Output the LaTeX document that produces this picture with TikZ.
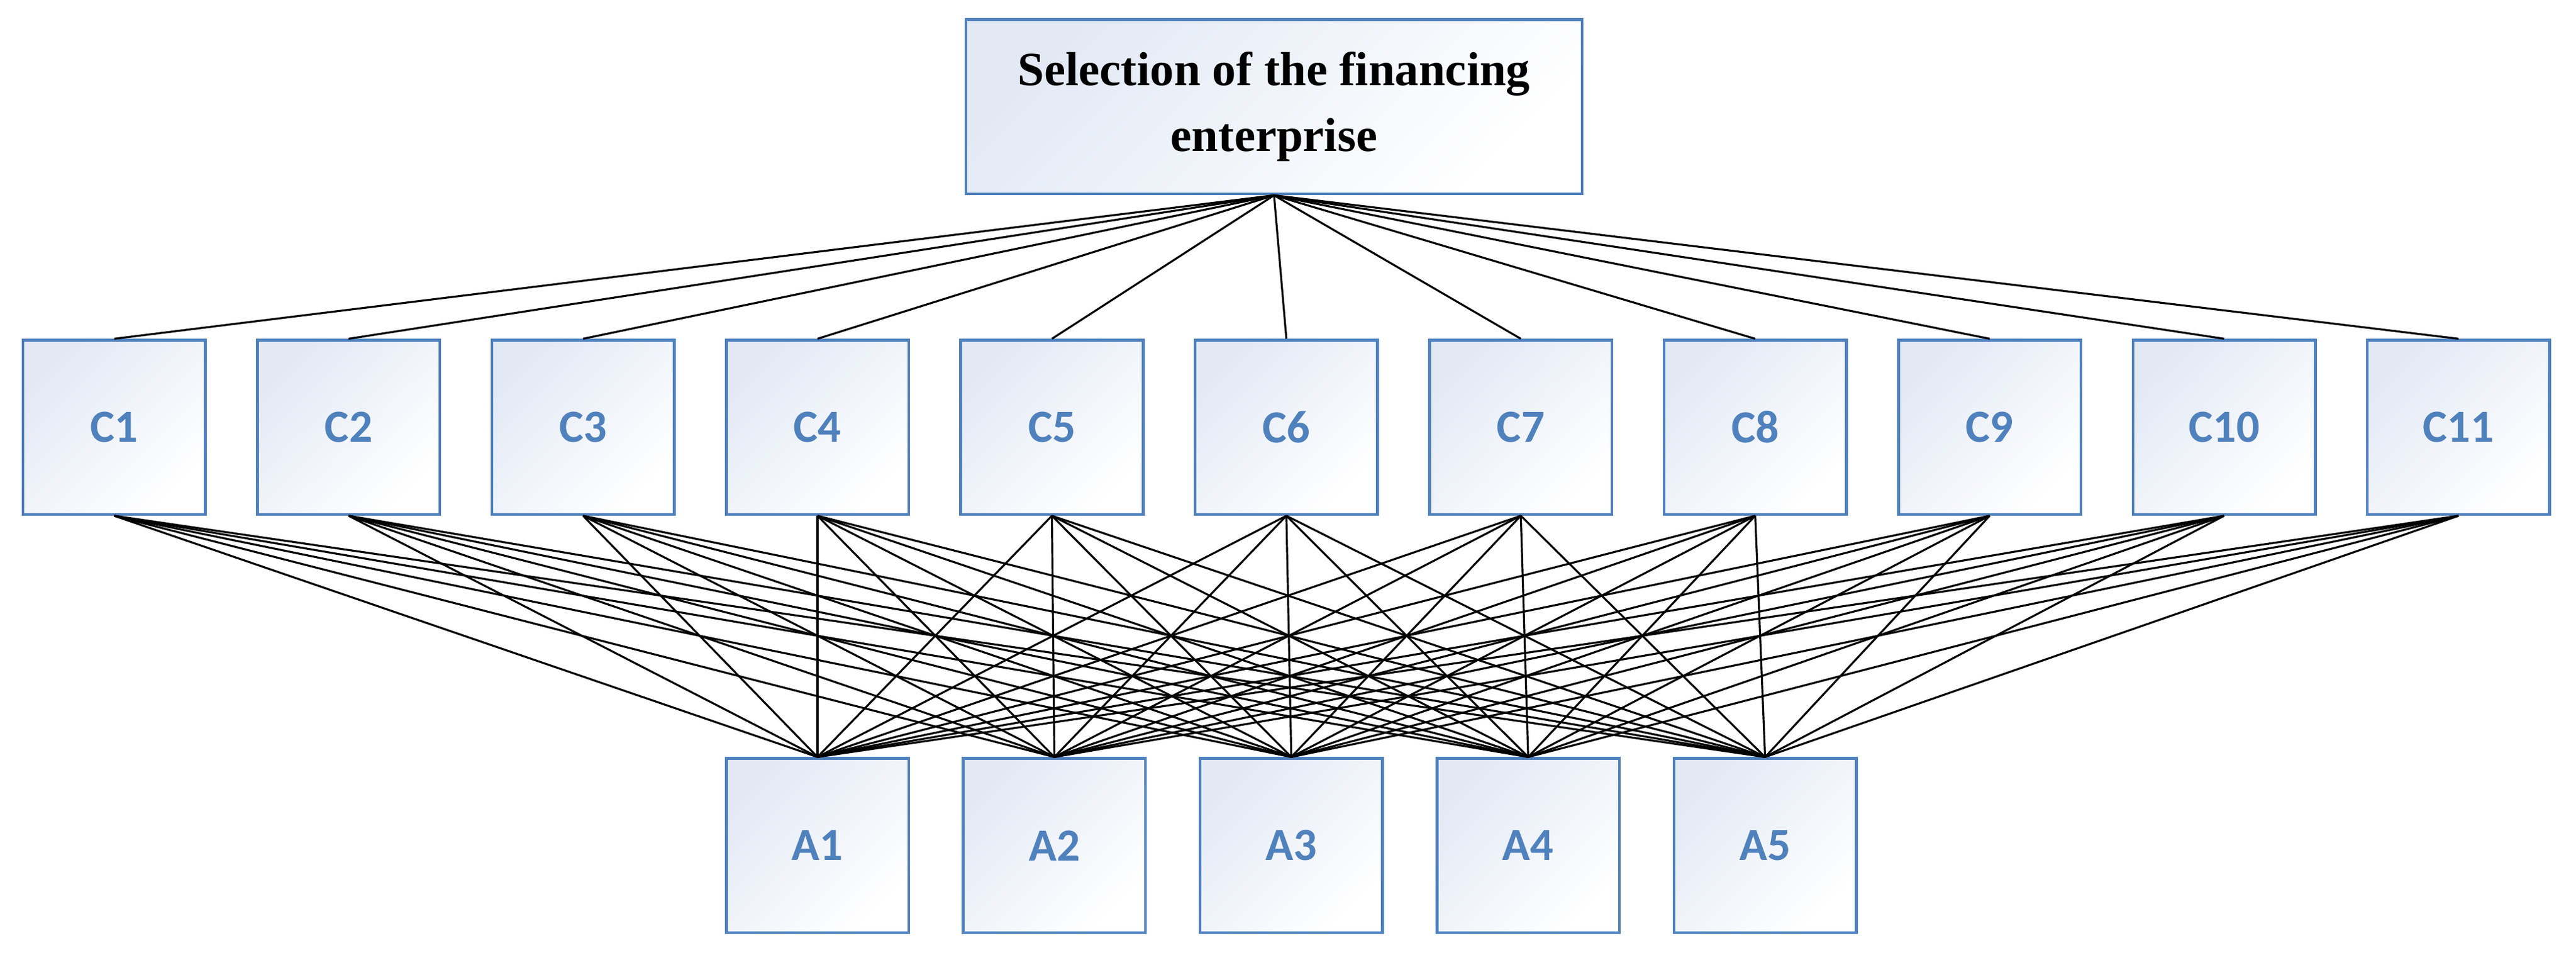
\documentclass[tikz,border=0pt]{standalone}
\usepackage{fontspec}
\setmainfont{Liberation Serif}
\newfontfamily\lblfont{Carlito}
\definecolor{bord}{RGB}{79,129,189}
\definecolor{shade}{RGB}{226,233,245}
\begin{document}
\begin{tikzpicture}[x=0.5pt,y=0.5pt,
  box/.style={draw=bord,line width=0.85pt,shading=axis,top color=shade,bottom color=white,shading angle=45,inner sep=0pt},
  cbox/.style={box,minimum width=55.5pt,minimum height=53pt,font=\lblfont\bfseries\fontsize{14}{16}\selectfont,text=bord},
  ln/.style={line width=0.6pt,black}]
\useasboundingbox (0,0) rectangle (1568,-584);
\node[box,minimum width=187.5pt,minimum height=53pt,align=center,font=\bfseries\fontsize{14.5}{20}\selectfont] (top) at (775.5,-65) {Selection of the financing\\enterprise};
\foreach \i in {1,...,11}{
  \node[cbox] (C\i) at ({69.5+(\i-1)*142.7},-260) {C\i};
}
\foreach \j in {1,...,5}{
  \node[cbox] (A\j) at ({69.5+(\j+2)*142.7+(\j-1)*1.5},-514.5) {A\j};
}
\foreach \i in {1,...,11}{
  \draw[ln] (top.south) -- (C\i.north);
  \foreach \j in {1,...,5}{
    \draw[ln] (C\i.south) -- (A\j.north);
  }
}
\end{tikzpicture}
\end{document}
